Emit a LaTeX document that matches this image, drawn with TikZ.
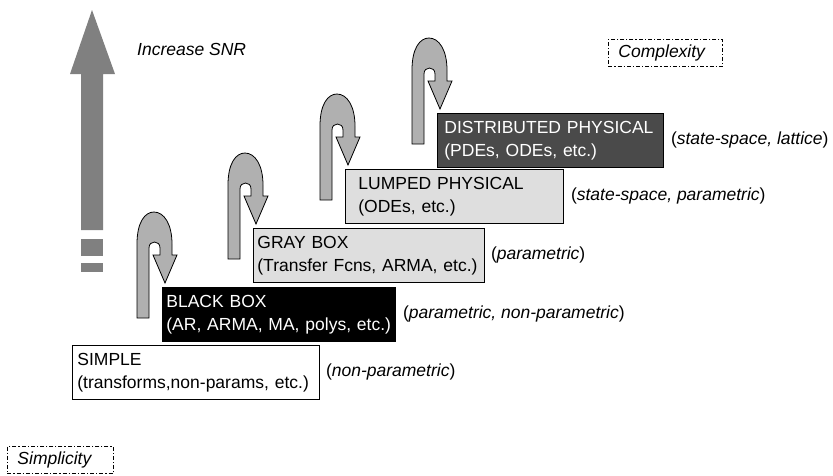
\documentclass[tikz,border=0pt]{standalone}
\usepackage{fontspec}
\setmainfont{Liberation Sans}
\usetikzlibrary{calc}
\definecolor{boxgray}{HTML}{DEDEDE}
\definecolor{darkbox}{HTML}{4A4A4A}
\definecolor{uarrowfill}{HTML}{B0B0B0}
\definecolor{bigarrow}{HTML}{808080}
\tikzset{
  stepbox/.style={draw=black, line width=0.8pt, anchor=north west, minimum height=54pt,
    inner ysep=0pt, align=left, font=\fontsize{17.5}{23}\selectfont},
  lab/.style={anchor=west, inner sep=0pt, font=\fontsize{17.5}{21}\selectfont},
  dashbox/.style={draw=black, line width=0.9pt, dash pattern=on 4pt off 2pt on 1.2pt off 2pt,
    anchor=north west, inner xsep=10pt, inner ysep=0pt, minimum height=27pt,
    font=\fontsize{17.5}{21}\selectfont\itshape},
  uturn/.style={fill=uarrowfill, draw=black, line width=0.8pt, line join=miter},
  uturnpath/.pic={
    \path[uturn] (0,106) -- (0,32) .. controls (0,10) and (8,0) .. (17,0)
      .. controls (27,0) and (35,12) .. (35,32) -- (35,43) -- (40,43) -- (28,71)
      -- (16,43) -- (23,43) -- (23,36) .. controls (23,32) and (20.5,30) .. (17.5,30)
      .. controls (14.5,30) and (12,32) .. (12,36) -- (12,106) -- cycle;
  }
}
\begin{document}
\begin{tikzpicture}[x=1pt,y=-1pt]
\useasboundingbox (0,0) rectangle (833,475);

% big SNR arrow
\fill[bigarrow] (92,10) -- (115,74) -- (103,74) -- (103,230) -- (81,230) -- (81,74) -- (70,74) -- cycle;
\fill[bigarrow] (81,239) rectangle (103,256);
\fill[bigarrow] (81,263) rectangle (103,272);
\node[anchor=base west, inner sep=0pt, font=\fontsize{17.5}{21}\selectfont\itshape] (snr) at (137,55) {Increase SNR};

% boxes
\node[stepbox, fill=white, text width=237pt, inner xsep=5pt] (simple) at (72,345)
  {SIMPLE\\(transforms,non-params, etc.)};
\node[stepbox, fill=black, text=white, text width=225pt, inner xsep=4pt] (black) at (162,287)
  {BLACK BOX\\(AR, ARMA, MA, polys, etc.)};
\node[stepbox, fill=boxgray, text width=223pt, inner xsep=4pt] (gray) at (253,228)
  {GRAY BOX\\(Transfer Fcns, ARMA, etc.)};
\node[stepbox, fill=boxgray, text width=192pt, inner xsep=13pt] (lumped) at (345,169)
  {LUMPED PHYSICAL\\(ODEs, etc.)};
\node[stepbox, fill=darkbox, text=white, text width=212pt, inner xsep=7pt] (dist) at (437,113)
  {DISTRIBUTED PHYSICAL\\(PDEs, ODEs, etc.)};

% labels
\node[lab] (l1) at ($(simple.east)+(6,0)$) {(\textit{non-parametric})};
\node[lab] (l2) at ($(black.east)+(7,0)$) {(\textit{parametric, non-parametric})};
\node[lab] (l3) at ($(gray.east)+(6,0)$) {(\textit{parametric})};
\node[lab] (l4) at ($(lumped.east)+(7,0)$) {(\textit{state-space, parametric})};
\node[lab] (l5) at ($(dist.east)+(7,0)$) {(\textit{state-space, lattice})};

% U-turn arrows
\pic at ($(black.north west)+(-25,-75)$) {uturnpath};
\pic at ($(gray.north west)+(-25,-75)$) {uturnpath};
\pic at ($(lumped.north west)+(-25,-75)$) {uturnpath};
\pic at ($(dist.north west)+(-25,-75)$) {uturnpath};

% dashed boxes
\node[dashbox] (simp) at (7,446) {\makebox[86pt][l]{Simplicity}};
\node[dashbox] (comp) at (608,39) {\makebox[94pt][l]{Complexity}};
\end{tikzpicture}
\end{document}
